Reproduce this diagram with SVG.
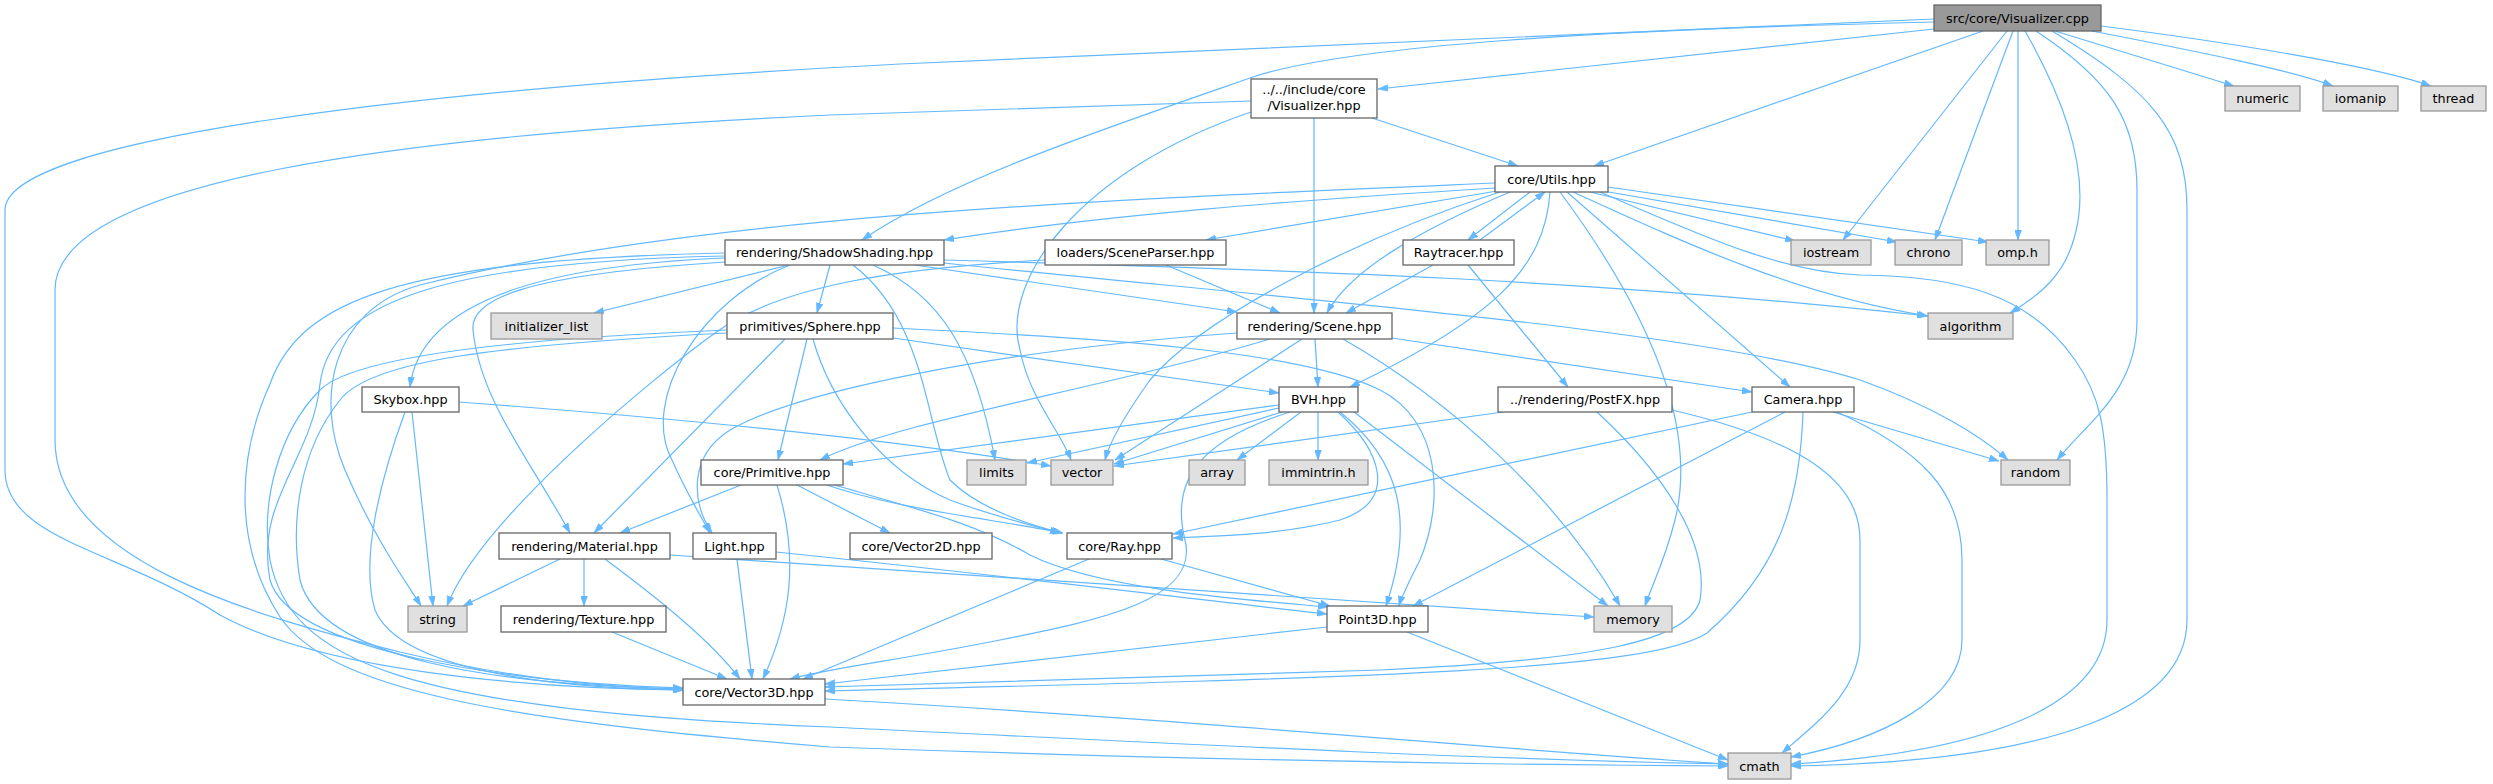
<svg xmlns="http://www.w3.org/2000/svg" width="2493" height="784" viewBox="0 0 2493 784">
<style>
.n rect{fill:#ffffff;stroke:#666666;stroke-width:1.3}
.g rect{fill:#e0e0e0;stroke:#999999;stroke-width:1.3}
.r rect{fill:#999999;stroke:#666666;stroke-width:1.3}
text{font-family:"DejaVu Sans",sans-serif;font-size:12.8px;fill:#000;text-anchor:middle}
#edges path{fill:none;stroke:#63b8ff;stroke-width:1.2;marker-end:url(#ah)}
</style>
<defs>
<marker id="ah" viewBox="0 0 10 7" refX="10" refY="3.5" markerWidth="10" markerHeight="7" markerUnits="userSpaceOnUse" orient="auto">
<path d="M0,0 L10,3.5 L0,7 z" fill="#63b8ff" stroke="#63b8ff" stroke-width="0.5"/>
</marker>
</defs>
<rect x="0" y="0" width="2493" height="784" fill="#ffffff"/>
<g id="edges">
<path d="M1934,29 L1378,89"/>
<path d="M1983,31 L1594,166"/>
<path d="M1934,22 C1600,30 1350,45 1253,77 C1100,130 950,180 862,240"/>
<path d="M1934,19 L900,64 C400,90 5,140 5,210 L5,470 C5,540 120,550 220,615 C320,670 520,688 683,690"/>
<path d="M2052,31 C2150,90 2187,130 2187,210 L2187,620 C2187,710 2050,762 1791,766"/>
<path d="M2036,31 C2110,80 2137,120 2137,190 L2137,320 C2137,390 2090,420 2057,460"/>
<path d="M2055,31 L2234,86"/>
<path d="M2092,31 C2200,52 2290,70 2333,86"/>
<path d="M2101,26 C2250,45 2380,68 2431,86"/>
<path d="M2007,31 L1843,240"/>
<path d="M2013,31 L1935,240"/>
<path d="M2018,31 L2018,240"/>
<path d="M2025,31 C2070,110 2090,180 2075,235 C2065,275 2040,295 2010,313"/>
<path d="M1372,118 L1518,166"/>
<path d="M1314,118 L1314,313"/>
<path d="M1251,112 C1080,170 1000,280 1020,350 C1030,400 1060,430 1071,460"/>
<path d="M1251,101 L830,115 C400,135 55,180 55,290 L55,440 C55,560 250,615 400,652 C500,676 600,688 683,689"/>
<path d="M1495,188 C1300,200 1100,215 944,240"/>
<path d="M1495,183 C1100,200 700,215 420,285 C330,310 315,400 345,470 C375,540 405,580 421,606"/>
<path d="M1497,191 L1206,240"/>
<path d="M1500,192 C1350,240 1200,320 1150,380 C1125,415 1110,440 1105,460"/>
<path d="M1510,192 C1420,230 1350,270 1327,313"/>
<path d="M1530,192 L1468,240"/>
<path d="M1480,240 L1545,192"/>
<path d="M1550,192 C1545,270 1490,320 1350,387"/>
<path d="M1560,192 C1640,300 1700,420 1675,520 C1665,560 1652,585 1645,606"/>
<path d="M1567,192 L1790,387"/>
<path d="M1573,192 C1700,250 1800,295 1928,316"/>
<path d="M1590,192 L1795,241"/>
<path d="M1597,190 L1897,242"/>
<path d="M1608,187 L1988,242"/>
<path d="M1600,192 C1700,235 1780,272 1860,275 C1960,276 2030,295 2075,360 C2100,395 2107,430 2107,500 L2107,620 C2107,700 2000,752 1791,764"/>
<path d="M789,265 L594,313"/>
<path d="M830,265 L817,313"/>
<path d="M915,265 L1237,312"/>
<path d="M944,260 C1300,270 1600,280 1927,316"/>
<path d="M944,263 C1300,300 1700,330 1860,380 C1930,405 1980,435 2008,460"/>
<path d="M873,265 C940,295 975,350 995,460"/>
<path d="M853,265 C925,320 925,420 950,480 C980,510 1030,525 1062,533"/>
<path d="M790,265 C700,300 640,400 672,460 C685,490 700,515 710,533"/>
<path d="M725,258 C550,265 420,300 410,387"/>
<path d="M725,262 C520,275 470,300 473,330 C480,400 530,460 570,533"/>
<path d="M725,256 C450,262 330,300 320,384 C312,460 255,500 270,580 C290,650 500,682 683,688"/>
<path d="M725,253 C400,260 300,300 270,384 C240,450 230,540 280,617 C330,690 500,720 830,747 C1200,760 1500,765 1728,766"/>
<path d="M807,339 L778,460"/>
<path d="M785,339 L594,533"/>
<path d="M813,339 C830,400 880,470 950,500 C990,515 1030,525 1060,533"/>
<path d="M893,338 C1050,360 1180,380 1279,393"/>
<path d="M893,328 C1100,338 1300,350 1380,390 C1440,420 1445,500 1420,560 C1410,580 1402,595 1399,606"/>
<path d="M727,333 C500,345 370,360 340,400 C300,450 290,520 300,580 C320,660 500,685 683,689"/>
<path d="M727,330 C480,340 350,360 320,390 C280,430 260,500 270,560 C290,660 400,710 830,727 C1200,745 1500,760 1728,764"/>
<path d="M1315,339 L1318,387"/>
<path d="M1302,339 L1115,460"/>
<path d="M1270,339 C1100,390 900,420 820,460"/>
<path d="M1237,333 C1000,350 800,390 730,430 C690,455 690,500 712,533"/>
<path d="M1392,338 L1752,392"/>
<path d="M1343,339 C1450,400 1560,500 1620,606"/>
<path d="M1166,265 L1280,313"/>
<path d="M1045,260 C900,268 780,285 715,333 C650,380 480,520 447,606"/>
<path d="M1433,265 L1346,313"/>
<path d="M1468,265 L1568,387"/>
<path d="M412,412 L433,606"/>
<path d="M405,412 C380,480 360,560 375,610 C400,670 550,688 683,690"/>
<path d="M459,402 C700,420 900,440 1051,466"/>
<path d="M1279,405 L843,464"/>
<path d="M1279,408 L1027,463"/>
<path d="M1282,412 L1114,464"/>
<path d="M1301,412 L1237,460"/>
<path d="M1318,412 L1318,460"/>
<path d="M1338,412 C1380,450 1400,500 1340,520 C1280,535 1220,536 1173,538"/>
<path d="M1340,412 C1400,460 1415,520 1386,606"/>
<path d="M1354,412 L1608,606"/>
<path d="M1290,412 C1200,440 1170,480 1185,540 C1200,600 1100,620 1000,640 C900,660 830,668 790,679"/>
<path d="M1503,412 L1114,466"/>
<path d="M1597,412 C1660,470 1710,540 1700,600 C1690,640 1600,660 1380,670 C1100,680 900,684 825,687"/>
<path d="M1672,410 C1800,440 1860,480 1860,540 L1860,640 C1860,690 1820,720 1782,753"/>
<path d="M1833,412 L1999,461"/>
<path d="M1837,412 C1920,450 1962,490 1962,560 L1962,640 C1962,700 1880,740 1791,757"/>
<path d="M1803,412 C1800,500 1780,570 1707,633 C1650,670 1400,677 825,691"/>
<path d="M1785,412 L1413,606"/>
<path d="M1752,412 L1173,534"/>
<path d="M741,485 L620,533"/>
<path d="M797,485 L890,533"/>
<path d="M827,485 C900,510 1000,520 1063,533"/>
<path d="M835,485 C900,505 970,520 1030,555 C1100,590 1250,600 1328,607"/>
<path d="M777,485 C800,560 790,620 763,679"/>
<path d="M560,559 L463,606"/>
<path d="M584,559 L584,606"/>
<path d="M605,559 C660,600 710,640 740,679"/>
<path d="M670,555 C1000,575 1300,595 1594,617"/>
<path d="M737,559 L752,679"/>
<path d="M776,552 C1000,575 1200,600 1327,614"/>
<path d="M612,632 L727,679"/>
<path d="M1161,559 L1330,606"/>
<path d="M1089,559 L803,679"/>
<path d="M1327,627 L825,684"/>
<path d="M1407,632 L1728,760"/>
<path d="M825,699 C1200,720 1500,750 1728,764"/>
</g>
<g id="node-root" class="r"><rect x="1934" y="5" width="167" height="26"/><text x="2017.5" y="22.6">src/core/Visualizer.cpp</text></g>
<g id="node-visualizer-hpp" class="n"><rect x="1251" y="79" width="126" height="39"/><text x="1314" y="94">../../include/core</text><text x="1314" y="109.5">/Visualizer.hpp</text></g>
<g id="node-utils" class="n"><rect x="1495" y="166" width="113" height="26"/><text x="1551.5" y="183.6">core/Utils.hpp</text></g>
<g id="node-numeric" class="g"><rect x="2225" y="86" width="75" height="25"/><text x="2262.5" y="103.1">numeric</text></g>
<g id="node-iomanip" class="g"><rect x="2323" y="86" width="75" height="25"/><text x="2360.5" y="103.1">iomanip</text></g>
<g id="node-thread" class="g"><rect x="2421" y="86" width="65" height="25"/><text x="2453.5" y="103.1">thread</text></g>
<g id="node-shadowshading" class="n"><rect x="725" y="240" width="219" height="25"/><text x="834.5" y="257.1">rendering/ShadowShading.hpp</text></g>
<g id="node-sceneparser" class="n"><rect x="1045" y="240" width="181" height="25"/><text x="1135.5" y="257.1">loaders/SceneParser.hpp</text></g>
<g id="node-raytracer" class="n"><rect x="1403" y="240" width="111" height="25"/><text x="1458.5" y="257.1">Raytracer.hpp</text></g>
<g id="node-iostream" class="g"><rect x="1791" y="240" width="80" height="25"/><text x="1831" y="257.1">iostream</text></g>
<g id="node-chrono" class="g"><rect x="1895" y="240" width="67" height="25"/><text x="1928.5" y="257.1">chrono</text></g>
<g id="node-omp" class="g"><rect x="1986" y="240" width="63" height="25"/><text x="2017.5" y="257.1">omp.h</text></g>
<g id="node-initializer-list" class="g"><rect x="491" y="313" width="111" height="26"/><text x="546.5" y="330.6">initializer_list</text></g>
<g id="node-sphere" class="n"><rect x="727" y="313" width="166" height="26"/><text x="810" y="330.6">primitives/Sphere.hpp</text></g>
<g id="node-scene" class="n"><rect x="1237" y="313" width="155" height="26"/><text x="1314.5" y="330.6">rendering/Scene.hpp</text></g>
<g id="node-algorithm" class="g"><rect x="1928" y="313" width="85" height="26"/><text x="1970.5" y="330.6">algorithm</text></g>
<g id="node-skybox" class="n"><rect x="362" y="387" width="97" height="25"/><text x="410.5" y="404.1">Skybox.hpp</text></g>
<g id="node-bvh" class="n"><rect x="1279" y="387" width="79" height="25"/><text x="1318.5" y="404.1">BVH.hpp</text></g>
<g id="node-postfx" class="n"><rect x="1498" y="387" width="174" height="25"/><text x="1585" y="404.1">../rendering/PostFX.hpp</text></g>
<g id="node-camera" class="n"><rect x="1752" y="387" width="102" height="25"/><text x="1803" y="404.1">Camera.hpp</text></g>
<g id="node-primitive" class="n"><rect x="701" y="460" width="142" height="25"/><text x="772" y="477.1">core/Primitive.hpp</text></g>
<g id="node-limits" class="g"><rect x="967" y="460" width="59" height="25"/><text x="996.5" y="477.1">limits</text></g>
<g id="node-vector" class="g"><rect x="1051" y="460" width="62" height="25"/><text x="1082" y="477.1">vector</text></g>
<g id="node-array" class="g"><rect x="1189" y="460" width="56" height="25"/><text x="1217" y="477.1">array</text></g>
<g id="node-immintrin" class="g"><rect x="1269" y="460" width="99" height="25"/><text x="1318.5" y="477.1">immintrin.h</text></g>
<g id="node-random" class="g"><rect x="2001" y="460" width="69" height="25"/><text x="2035.5" y="477.1">random</text></g>
<g id="node-material" class="n"><rect x="499" y="533" width="171" height="26"/><text x="584.5" y="550.6">rendering/Material.hpp</text></g>
<g id="node-light" class="n"><rect x="693" y="533" width="83" height="26"/><text x="734.5" y="550.6">Light.hpp</text></g>
<g id="node-vector2d" class="n"><rect x="850" y="533" width="142" height="26"/><text x="921" y="550.6">core/Vector2D.hpp</text></g>
<g id="node-ray" class="n"><rect x="1067" y="533" width="105" height="26"/><text x="1119.5" y="550.6">core/Ray.hpp</text></g>
<g id="node-string" class="g"><rect x="408" y="606" width="59" height="26"/><text x="437.5" y="623.6">string</text></g>
<g id="node-texture" class="n"><rect x="501" y="606" width="165" height="26"/><text x="583.5" y="623.6">rendering/Texture.hpp</text></g>
<g id="node-point3d" class="n"><rect x="1327" y="606" width="101" height="26"/><text x="1377.5" y="623.6">Point3D.hpp</text></g>
<g id="node-memory" class="g"><rect x="1594" y="606" width="78" height="26"/><text x="1633" y="623.6">memory</text></g>
<g id="node-vector3d" class="n"><rect x="683" y="679" width="142" height="26"/><text x="754" y="696.6">core/Vector3D.hpp</text></g>
<g id="node-cmath" class="g"><rect x="1728" y="753" width="63" height="26"/><text x="1759.5" y="770.6">cmath</text></g>
</svg>
